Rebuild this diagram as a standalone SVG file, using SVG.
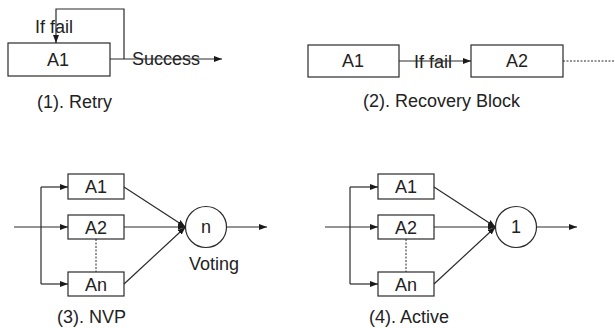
<svg xmlns="http://www.w3.org/2000/svg" width="615" height="328" viewBox="0 0 615 328">
  <style>
    .box { fill: #fff; stroke: #2a2a2a; stroke-width: 1.2; }
    .ln { fill: none; stroke: #2a2a2a; stroke-width: 1.2; }
    .dash { fill: none; stroke: #2a2a2a; stroke-width: 1; stroke-dasharray: 2 1.5; }
    .t { font-family: "Liberation Sans", Arial, sans-serif; font-size: 18px; fill: #222; }
    .c { text-anchor: middle; }
  </style>
  <defs>
    <marker id="arrow" viewBox="0 0 8 6" refX="8" refY="3" markerWidth="8" markerHeight="6" markerUnits="userSpaceOnUse" orient="auto">
      <path d="M0,0 L8,3 L0,6 z" fill="#1a1a1a"/>
    </marker>
  </defs>

  <!-- (1) Retry -->
  <g id="retry-a1">
    <rect class="box" x="8" y="43" width="102" height="33"/>
    <text class="t c" x="58" y="66">A1</text>
  </g>
  <text class="t" x="35" y="33">If fail</text>
  <text class="t" x="132" y="65">Success</text>
  <text class="t" x="37" y="108">(1). Retry</text>

  <!-- (2) Recovery Block -->
  <g id="rb-a1">
    <rect class="box" x="308" y="45" width="91" height="32"/>
    <text class="t c" x="353" y="67">A1</text>
  </g>
  <g id="rb-a2">
    <rect class="box" x="471" y="45" width="92" height="32"/>
    <text class="t c" x="517" y="67">A2</text>
  </g>
  <text class="t" x="414" y="68">If fail</text>
  <text class="t" x="363" y="107">(2). Recovery Block</text>

  <!-- (3) NVP -->
  <g id="nvp-a1">
    <rect class="box" x="68" y="174" width="56" height="25"/>
    <text class="t c" x="96" y="193">A1</text>
  </g>
  <g id="nvp-a2">
    <rect class="box" x="68" y="215" width="56" height="24"/>
    <text class="t c" x="96" y="234">A2</text>
  </g>
  <g id="nvp-an">
    <rect class="box" x="68" y="272" width="56" height="24"/>
    <text class="t c" x="96" y="291">An</text>
  </g>
  <g id="nvp-vote">
    <circle class="box" cx="206" cy="227" r="20.5"/>
    <text class="t c" x="206" y="233">n</text>
  </g>
  <text class="t" x="189" y="270">Voting</text>
  <text class="t" x="57" y="323">(3). NVP</text>

  <!-- (4) Active -->
  <g id="act-a1">
    <rect class="box" x="378" y="174" width="56" height="25"/>
    <text class="t c" x="406" y="193">A1</text>
  </g>
  <g id="act-a2">
    <rect class="box" x="378" y="215" width="56" height="24"/>
    <text class="t c" x="406" y="234">A2</text>
  </g>
  <g id="act-an">
    <rect class="box" x="378" y="272" width="56" height="24"/>
    <text class="t c" x="406" y="291">An</text>
  </g>
  <g id="act-vote">
    <circle class="box" cx="516" cy="227" r="20.5"/>
    <text class="t c" x="516" y="233">1</text>
  </g>
  <text class="t" x="369" y="323">(4). Active</text>

  <g id="connectors">
    <!-- retry -->
    <path class="ln" d="M110,59 H222" marker-end="url(#arrow)"/>
    <path class="ln" d="M124,59 V9 H56 V43" marker-end="url(#arrow)"/>
    <!-- recovery block -->
    <path class="ln" d="M399,61 H471" marker-end="url(#arrow)"/>
    <path class="dash" d="M563,61 H615"/>
    <!-- NVP -->
    <path class="ln" d="M14,227 H68" marker-end="url(#arrow)"/>
    <path class="ln" d="M41,187 V284"/>
    <path class="ln" d="M41,187 H68" marker-end="url(#arrow)"/>
    <path class="ln" d="M41,284 H68" marker-end="url(#arrow)"/>
    <path class="dash" d="M96,239 V272"/>
    <path class="ln" d="M124,187 L185.5,227" marker-end="url(#arrow)"/>
    <path class="ln" d="M124,227 H185.5" marker-end="url(#arrow)"/>
    <path class="ln" d="M124,284 L185.5,227" marker-end="url(#arrow)"/>
    <path class="ln" d="M226.5,227 H267" marker-end="url(#arrow)"/>
    <!-- Active -->
    <path class="ln" d="M325,227 H378" marker-end="url(#arrow)"/>
    <path class="ln" d="M350,187 V284"/>
    <path class="ln" d="M350,187 H378" marker-end="url(#arrow)"/>
    <path class="ln" d="M350,284 H378" marker-end="url(#arrow)"/>
    <path class="dash" d="M406,239 V272"/>
    <path class="ln" d="M434,187 L495.5,227" marker-end="url(#arrow)"/>
    <path class="ln" d="M434,227 H495.5" marker-end="url(#arrow)"/>
    <path class="ln" d="M434,284 L495.5,227" marker-end="url(#arrow)"/>
    <path class="ln" d="M536.5,227 H577" marker-end="url(#arrow)"/>
  </g>
</svg>
